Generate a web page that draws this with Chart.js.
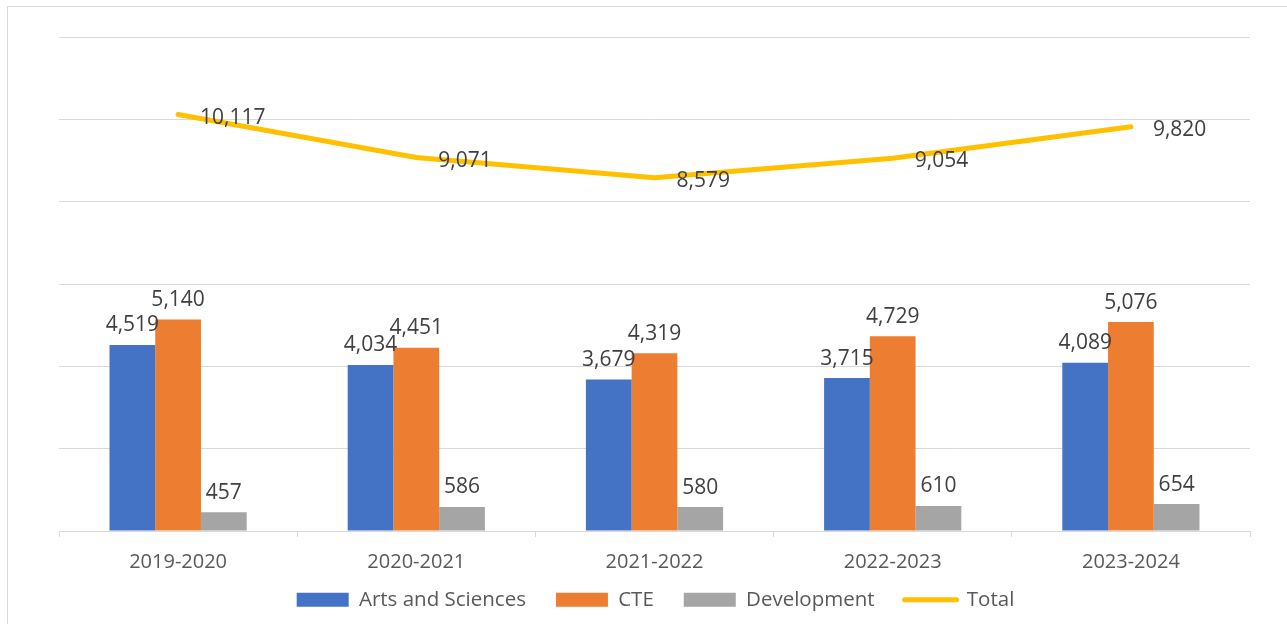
<!DOCTYPE html>
<html>
<head>
<meta charset="utf-8">
<script src="https://cdn.jsdelivr.net/npm/chart.js@4.4.0/dist/chart.umd.min.js"></script>
<style>
  html, body { margin: 0; padding: 0; background: #fff; }
  #wrap { position: relative; width: 1287px; height: 624px; overflow: hidden; }
  #frame { position: absolute; left: 7px; top: 6px; width: 1400px; height: 700px; border: 1px solid #d9d9d9; box-sizing: border-box; }
  canvas { position: absolute; left: 0; top: 0; }
</style>
</head>
<body>
<div id="wrap">
  <div id="frame"></div>
  <canvas id="c" width="1287" height="624"></canvas>
</div>
<script>
const categories = ["2019-2020", "2020-2021", "2021-2022", "2022-2023", "2023-2024"];
const artsSciences = [4519, 4034, 3679, 3715, 4089];
const cte = [5140, 4451, 4319, 4729, 5076];
const development = [457, 586, 580, 610, 654];
const total = [10117, 9071, 8579, 9054, 9820];

const FONT = "'Open Sans', 'Liberation Sans', sans-serif";
const fmt = v => v.toLocaleString('en-US');

const labelPlugin = {
  id: 'valueLabels',
  beforeDraw(chart) {
    // let the category labels extend below the (short) x-axis box
    if (chart.scales.x) chart.scales.x._computeLabelArea = () => undefined;
  },
  afterDatasetsDraw(chart) {
    const ctx = chart.ctx;
    ctx.save();
    ctx.font = "21px " + FONT;
    ctx.fillStyle = '#404040';
    chart.data.datasets.forEach((ds, i) => {
      const meta = chart.getDatasetMeta(i);
      meta.data.forEach((el, j) => {
        const v = ds.data[j];
        if (ds.type === 'line') {
          ctx.textAlign = 'left';
          ctx.textBaseline = 'middle';
          ctx.fillText(fmt(v), el.x + 22, el.y + 3);
        } else {
          ctx.textAlign = 'center';
          ctx.textBaseline = 'bottom';
          ctx.fillText(fmt(v), el.x, el.y - 9);
        }
      });
    });
    ctx.restore();
  }
};

new Chart(document.getElementById('c'), {
  data: {
    labels: categories,
    datasets: [
      { type: 'line', label: 'Total', data: total, borderColor: '#FFC000', backgroundColor: '#FFC000',
        borderWidth: 5, pointRadius: 0, borderCapStyle: 'round', tension: 0, order: 0, pointStyle: 'line' },
      { type: 'bar', label: 'Arts and Sciences', data: artsSciences, backgroundColor: '#4472C4', order: 1, pointStyle: 'rect' },
      { type: 'bar', label: 'CTE', data: cte, backgroundColor: '#ED7D31', order: 2, pointStyle: 'rect' },
      { type: 'bar', label: 'Development', data: development, backgroundColor: '#A5A5A5', order: 3, pointStyle: 'rect' }
    ]
  },
  options: {
    responsive: false,
    animation: false,
    datasets: { bar: { categoryPercentage: 0.576, barPercentage: 1.0 } },
    layout: { padding: { left: 59, right: 35, top: 37, bottom: 4 } },
    plugins: {
      tooltip: { enabled: false },
      legend: {
        position: 'bottom',
        labels: {
          usePointStyle: true,
          pointStyleWidth: 52,
          boxHeight: 14,
          padding: 30,
          color: '#595959',
          font: { family: FONT, size: 20.5 },
          sort: (a, b) => {
            const order = ['Arts and Sciences', 'CTE', 'Development', 'Total'];
            return order.indexOf(a.text) - order.indexOf(b.text);
          },
          generateLabels(chart) {
            return chart.data.datasets.map((ds, i) => ({
              text: ds.label,
              fillStyle: ds.backgroundColor,
              strokeStyle: ds.type === 'line' ? ds.borderColor : ds.backgroundColor,
              lineWidth: ds.type === 'line' ? 5 : 0,
              lineCap: 'round',
              pointStyle: ds.type === 'line' ? 'line' : 'rect',
              fontColor: '#595959',
              datasetIndex: i,
              hidden: false
            }));
          }
        }
      }
    },
    scales: {
      x: {
        offset: true,
        grid: { display: true, offset: true, drawOnChartArea: false, drawTicks: true, tickLength: 6, color: '#d9d9d9' },
        border: { display: true, color: '#d9d9d9', width: 1 },
        ticks: { color: '#595959', font: { family: FONT, size: 20 }, padding: 13, maxRotation: 0 },
        afterFit(s) { s.height = 28.5; }
      },
      y: {
        position: 'right',
        min: 0, max: 12000,
        ticks: { display: false, stepSize: 2000 },
        grid: { color: '#d9d9d9', lineWidth: 1, drawTicks: false },
        border: { display: false },
        afterFit(s) { s.width = 2; }
      }
    }
  },
  plugins: [labelPlugin]
});
</script>
</body>
</html>
